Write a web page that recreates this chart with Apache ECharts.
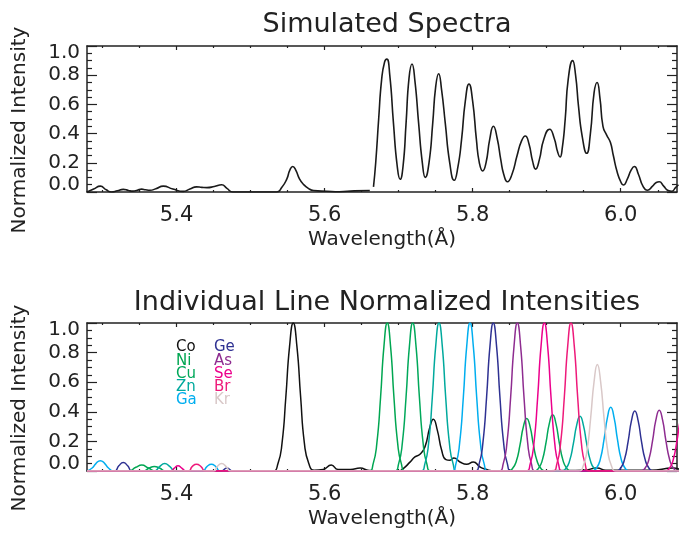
<!DOCTYPE html>
<html>
<head>
<meta charset="utf-8">
<script src="https://cdn.jsdelivr.net/npm/echarts@6/dist/echarts.min.js"></script>
<style>html,body{margin:0;padding:0;background:#fff}#c{width:680px;height:537px}</style>
</head>
<body>
<div id="c"></div>
<script>
// ---------- data ----------
const xMin = 5.279, xMax = 6.076;
const wavelengthTicks = [5.4, 5.6, 5.8, 6.0];
const minorWavelengthTicks = [5.30,5.35,5.45,5.50,5.55,5.65,5.70,5.75,5.85,5.90,5.95,6.05];

// Simulated spectrum (top panel)
const specWave = [5.279,5.288,5.297,5.305,5.312,5.320,5.328,5.335,5.341,5.347,5.353,5.358,5.364,5.372,5.382,5.395,5.409,5.418,5.427,5.434,5.441,5.451,5.461,5.468,5.476,5.500,5.535,5.542,5.549,5.553,5.557,5.561,5.566,5.571,5.578,5.585,5.603,5.620,5.640,5.661,5.663,
5.666,5.669,5.673,5.677,5.681,5.684,5.688,5.693,5.698,5.702,5.706,5.710,5.714,5.718,5.722,5.727,5.732,5.736,5.741,5.746,5.750,5.754,5.758,5.763,5.769,5.775,5.780,5.785,5.790,5.795,5.800,5.805,5.809,5.8135,5.818,5.823,5.828,5.833,5.838,5.842,5.847,5.853,5.860,5.866,5.871,5.876,5.881,5.885,5.890,5.896,5.904,5.910,5.915,5.918,5.921,5.925,5.929,5.935,5.939,5.943,5.948,5.954,5.959,5.964,5.968,5.972,5.976,5.981,5.986,5.990,5.995,6.000,6.0035,6.009,6.014,6.0184,6.024,6.030,6.036,6.043,6.048,6.052,6.058,6.064,6.069,6.074,6.078];
const specInt = [0.00,0.02,0.04,0.015,0.0,0.008,0.018,0.01,0.006,0.012,0.02,0.015,0.012,0.022,0.04,0.02,0.004,0.02,0.035,0.032,0.03,0.038,0.05,0.025,0.0,0.0,0.0,0.03,0.09,0.15,0.175,0.15,0.09,0.055,0.025,0.01,0.005,0.002,0.008,0.01,'-',
0.035,0.2,0.5,0.77,0.89,0.91,0.8,0.47,0.18,0.087,0.18,0.47,0.78,0.877,0.76,0.47,0.2,0.10,0.2,0.47,0.72,0.81,0.7,0.47,0.2,0.08,0.17,0.36,0.62,0.74,0.62,0.36,0.2,0.144,0.2,0.36,0.45,0.37,0.22,0.12,0.07,0.12,0.25,0.35,0.384,0.33,0.21,0.157,0.22,0.36,0.43,0.37,0.27,0.24,0.3,0.5,0.77,0.90,0.8,0.585,0.38,0.265,0.4,0.68,0.75,0.64,0.45,0.39,0.34,0.25,0.14,0.07,0.048,0.09,0.15,0.175,0.12,0.04,0.012,0.04,0.065,0.07,0.04,0.01,0.005,0.03,0.05];

// Individual lines (bottom panel): [wavelength, normalized intensity]
const lineCo = [[5.279,0],[5.50,0],[5.530,0],[5.537,0.05],[5.5425,0.19],[5.5476,0.5],[5.5526,0.84],[5.5576,1.0],[5.5626,0.84],[5.5676,0.5],[5.5726,0.19],[5.5786,0.05],[5.586,0.005],[5.598,0.01],[5.609,0.04],[5.618,0.01],[5.635,0.01],[5.648,0.02],[5.66,0.003],[5.70,0.0],[5.7062,0.016],[5.7153,0.06],[5.722,0.095],[5.7288,0.113],[5.7355,0.163],[5.7423,0.30],[5.7468,0.35],[5.7522,0.276],[5.7581,0.14],[5.7639,0.077],[5.7693,0.073],[5.7747,0.088],[5.7828,0.061],[5.7919,0.045],[5.8008,0.061],[5.8099,0.027],[5.8166,0.013],[5.83,0],[5.95,0.005],[5.968,0.02],[5.98,0.005],[6.04,0.005],[6.071,0.02],[6.08,0.01]];
const lineNi = [[5.279,0],[5.335,0],[5.345,0.025],[5.353,0.04],[5.362,0.02],[5.372,0],[5.6596,0],[5.6656,0.05],[5.6706,0.19],[5.6756,0.5],[5.6801,0.84],[5.6846,1],[5.6891,0.84],[5.6936,0.5],[5.6986,0.19],[5.7036,0.05],[5.7096,0],[5.848,0],[5.854,0.018],[5.859,0.067],[5.864,0.178],[5.8685,0.3],[5.873,0.355],[5.8775,0.3],[5.882,0.178],[5.887,0.067],[5.892,0.018],[5.898,0],[6.08,0]];
const lineCu = [[5.279,0],[5.355,0],[5.363,0.02],[5.370,0.03],[5.377,0.02],[5.385,0],[5.694,0],[5.700,0.05],[5.705,0.19],[5.710,0.5],[5.7145,0.84],[5.719,1],[5.7235,0.84],[5.728,0.5],[5.733,0.19],[5.738,0.05],[5.744,0],[5.883,0],[5.889,0.019],[5.894,0.072],[5.899,0.19],[5.9035,0.32],[5.908,0.38],[5.9125,0.32],[5.917,0.19],[5.922,0.072],[5.927,0.019],[5.933,0],[6.08,0]];
const lineZn = [[5.279,0],[5.370,0],[5.377,0.03],[5.384,0.05],[5.391,0.03],[5.398,0],[5.7295,0],[5.7355,0.05],[5.7405,0.19],[5.7455,0.5],[5.75,0.84],[5.7545,1],[5.759,0.84],[5.7635,0.5],[5.7685,0.19],[5.7735,0.05],[5.7795,0],[5.920,0],[5.926,0.018],[5.931,0.07],[5.936,0.185],[5.9405,0.31],[5.945,0.37],[5.9495,0.31],[5.954,0.185],[5.959,0.07],[5.964,0.018],[5.970,0],[6.08,0]];
const lineGa = [[5.279,0],[5.286,0.02],[5.291,0.05],[5.297,0.07],[5.303,0.05],[5.308,0.02],[5.315,0],[5.435,0],[5.441,0.03],[5.447,0.045],[5.453,0.03],[5.459,0],[5.7714,0],[5.7774,0.05],[5.7824,0.19],[5.7874,0.5],[5.7919,0.84],[5.7964,1],[5.8009,0.84],[5.8054,0.5],[5.8104,0.19],[5.8154,0.05],[5.8214,0],[5.9615,0],[5.9675,0.022],[5.9725,0.082],[5.9775,0.215],[5.982,0.36],[5.9865,0.43],[5.991,0.36],[5.9955,0.215],[6.0005,0.082],[6.0055,0.022],[6.0115,0],[6.08,0]];
const lineGe = [[5.279,0],[5.316,0],[5.322,0.035],[5.328,0.057],[5.334,0.035],[5.340,0],[5.460,0],[5.468,0.02],[5.476,0],[5.8028,0],[5.8088,0.05],[5.8138,0.19],[5.8188,0.5],[5.8233,0.84],[5.8278,1],[5.8323,0.84],[5.8368,0.5],[5.8418,0.19],[5.8468,0.05],[5.8528,0],[5.994,0],[6.000,0.02],[6.005,0.077],[6.010,0.2],[6.0145,0.34],[6.019,0.405],[6.0235,0.34],[6.028,0.2],[6.033,0.077],[6.038,0.02],[6.044,0],[6.08,0]];
const lineAs = [[5.279,0],[5.8353,0],[5.8413,0.05],[5.8463,0.19],[5.8513,0.5],[5.8558,0.84],[5.8603,1],[5.8648,0.84],[5.8693,0.5],[5.8743,0.19],[5.8793,0.05],[5.8853,0],[6.027,0],[6.033,0.02],[6.038,0.078],[6.043,0.205],[6.0475,0.345],[6.052,0.41],[6.0565,0.345],[6.061,0.205],[6.066,0.078],[6.071,0.02],[6.077,0],[6.08,0]];
const lineSe = [[5.279,0],[5.392,0],[5.397,0.02],[5.402,0.035],[5.407,0.02],[5.413,0],[5.8718,0],[5.8778,0.05],[5.8828,0.19],[5.8878,0.5],[5.8923,0.84],[5.8968,1],[5.9013,0.84],[5.9058,0.5],[5.9108,0.19],[5.9158,0.05],[5.9218,0],[6.060,0],[6.066,0.02],[6.071,0.078],[6.076,0.205],[6.0805,0.345],[6.085,0.41]];
const lineBr = [[5.279,0],[5.416,0],[5.421,0.03],[5.427,0.045],[5.433,0.03],[5.439,0],[5.9078,0],[5.9138,0.05],[5.9188,0.19],[5.9238,0.5],[5.9283,0.84],[5.9328,1],[5.9373,0.84],[5.9418,0.5],[5.9468,0.19],[5.9518,0.05],[5.9578,0],[6.08,0]];
const lineKr = [[5.279,0],[5.450,0],[5.455,0.03],[5.461,0.05],[5.467,0.03],[5.473,0],[5.9434,0],[5.9494,0.036],[5.9544,0.137],[5.9594,0.36],[5.9639,0.6],[5.9684,0.72],[5.9729,0.6],[5.9774,0.36],[5.9824,0.137],[5.9874,0.036],[5.9934,0],[6.08,0]];

const elementNames = ['Co','Ni','Cu','Zn','Ga','Ge','As','Se','Br','Kr'];
const elementColors = ['#111111','#00a651','#00a85a','#00a99d','#00aeef','#2e3192','#8e2c90','#ec008c','#ee1a7a','#d9c8c8'];
const elementLines = [lineCo,lineNi,lineCu,lineZn,lineGa,lineGe,lineAs,lineSe,lineBr,lineKr];

// ---------- chart ----------
const FONT = 'DejaVu Sans';
const INK = '#222';
const chart = echarts.init(document.getElementById('c'), null, {renderer:'canvas'});

function xAxes(grid, pos, major, labels) {
  return {
    gridIndex: grid, type: 'value', position: pos, min: xMin, max: xMax,
    axisLine: {show: major, onZero: false, lineStyle: {color: INK, width: 1.5}},
    axisTick: {show: true, inside: true, length: major ? 4 : 2, customValues: major ? wavelengthTicks : minorWavelengthTicks, lineStyle: {color: INK, width: 1.2}},
    axisLabel: labels ? {show: true, customValues: wavelengthTicks, formatter: v => v.toFixed(1), fontFamily: FONT, fontSize: 21, color: INK, margin: 13} : {show: false},
    splitLine: {show: false},
    name: labels ? 'Wavelength(Å)' : '', nameLocation: 'middle', nameGap: 38,
    nameTextStyle: {fontFamily: FONT, fontSize: 20, color: INK}
  };
}
function yAxis(grid, pos, labels) {
  return {
    gridIndex: grid, type: 'value', position: pos, min: 0, max: 1, interval: 0.2,
    axisLine: {show: true, onZero: false, lineStyle: {color: INK, width: 1.5}},
    axisTick: {show: true, inside: true, length: 10, lineStyle: {color: INK, width: 1.2}},
    minorTick: {show: true, splitNumber: 4, length: 5, lineStyle: {color: INK, width: 1.2}},
    axisLabel: labels ? {
      show: true, fontFamily: FONT, fontSize: 20, color: INK, margin: 7,
      formatter: v => v === 1 ? '{t|1.0}' : (v === 0 ? '{b|0.0}' : v.toFixed(1)),
      rich: {t: {padding: [14,0,0,0]}, b: {padding: [0,0,14,0]}}
    } : {show: false},
    splitLine: {show: false},
    name: labels ? 'Normalized Intensity' : '', nameLocation: 'middle', nameGap: 57,
    nameTextStyle: {fontFamily: FONT, fontSize: 20, color: INK, padding: [0,22,0,0]}
  };
}

const series = [{
  type: 'line', xAxisIndex: 0, yAxisIndex: 0, name: 'Simulated',
  data: specWave.map((w, i) => [w, specInt[i]]),
  showSymbol: false, smooth: 0.55, connectNulls: false, clip: true,
  lineStyle: {color: '#1a1a1a', width: 1.6}, z: 3
}];
elementLines.forEach((d, i) => {
  series.push({
    type: 'line', xAxisIndex: 4, yAxisIndex: 2, name: elementNames[i], data: d,
    showSymbol: false, smooth: 0.55, clip: true,
    lineStyle: {color: elementColors[i], width: 1.5}, z: 3
  });
});

const legendTexts = elementNames.map((n, i) => ({
  type: 'text',
  left: i < 5 ? 176 : 214,
  top: 340 + (i % 5) * 13.2,
  style: {text: n, fill: elementColors[i], font: '15px "DejaVu Sans"'}
}));

chart.setOption({
  animation: false,
  backgroundColor: '#fff',
  title: [
    {text: 'Simulated Spectra', left: 382, top: 6, textAlign: 'center', textStyle: {fontFamily: FONT, fontSize: 27, fontWeight: 'normal', color: INK}},
    {text: 'Individual Line Normalized Intensities', left: 382, top: 284, textAlign: 'center', textStyle: {fontFamily: FONT, fontSize: 27, fontWeight: 'normal', color: INK}}
  ],
  grid: [
    {left: 87, top: 46, width: 590, height: 146},
    {left: 87, top: 323, width: 590, height: 148}
  ],
  xAxis: [
    xAxes(0, 'bottom', true, true), xAxes(0, 'bottom', false, false),
    xAxes(0, 'top', true, false), xAxes(0, 'top', false, false),
    xAxes(1, 'bottom', true, true), xAxes(1, 'bottom', false, false),
    xAxes(1, 'top', true, false), xAxes(1, 'top', false, false)
  ],
  yAxis: [yAxis(0, 'left', true), yAxis(0, 'right', false), yAxis(1, 'left', true), yAxis(1, 'right', false)],
  series: series,
  graphic: legendTexts
});
</script>
</body>
</html>
